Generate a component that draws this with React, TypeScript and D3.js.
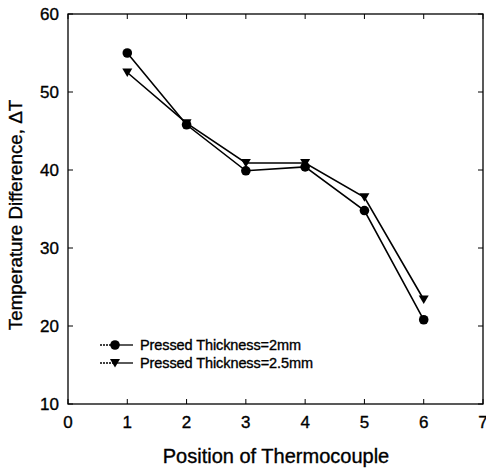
import React from "react";
import * as d3 from "d3";

const positions = [1, 2, 3, 4, 5, 6];
const series2mm = [55.0, 45.8, 39.9, 40.4, 34.8, 20.8];
const series25mm = [52.5, 46.0, 40.9, 40.9, 36.5, 23.4];
const xTicks = [0, 1, 2, 3, 4, 5, 6, 7];
const yTicks = [10, 20, 30, 40, 50, 60];
const legendLabels = ["Pressed Thickness=2mm", "Pressed Thickness=2.5mm"];

const W = 486, H = 468;
const L = 68, R = 483, T = 14, B = 404;

export default function App() {
  const x = d3.scaleLinear().domain([0, 7]).range([L, R]);
  const y = d3.scaleLinear().domain([10, 60]).range([B, T]);
  const line = d3.line<number>().x((_, i) => x(positions[i])).y((d) => y(d));
  const tri = (cx: number, cy: number, s: number) =>
    `M${cx - s},${cy - s * 0.8}L${cx + s},${cy - s * 0.8}L${cx},${cy + s * 0.9}Z`;
  const font = "Arial, 'Liberation Sans', sans-serif";
  const ink = { stroke: "#000", strokeWidth: 0.35 };
  return (
    <svg width={W} height={H} style={{ position: "absolute", left: 0, top: 0, background: "#fff" }}>
      <rect x={L} y={T} width={R - L} height={B - T} fill="none" stroke="#000" strokeWidth={1.3} />
      {xTicks.map((t) => (
        <g key={"x" + t}>
          <line x1={x(t)} x2={x(t)} y1={B} y2={B - 5} stroke="#000" />
          <line x1={x(t)} x2={x(t)} y1={T} y2={T + 5} stroke="#000" />
          <text x={x(t)} y={B + 24} textAnchor="middle" fontFamily={font} fontSize={17} {...ink}>{t}</text>
        </g>
      ))}
      {yTicks.map((t) => (
        <g key={"y" + t}>
          <line x1={L} x2={L + 5} y1={y(t)} y2={y(t)} stroke="#000" />
          <line x1={R} x2={R - 5} y1={y(t)} y2={y(t)} stroke="#000" />
          <text x={L - 9} y={y(t) + 6} textAnchor="end" fontFamily={font} fontSize={17} {...ink}>{t}</text>
        </g>
      ))}
      <text x={276} y={463} textAnchor="middle" fontFamily={font} fontSize={20} {...ink}>Position of Thermocouple</text>
      <text transform={`translate(22,215) rotate(-90)`} textAnchor="middle" fontFamily={font} fontSize={18.8} {...ink}>Temperature Difference, ΔT</text>
      <path d={line(series2mm) || ""} fill="none" stroke="#000" strokeWidth={1.6} />
      <path d={line(series25mm) || ""} fill="none" stroke="#000" strokeWidth={1.6} />
      {series2mm.map((v, i) => (
        <circle key={"c" + i} cx={x(positions[i])} cy={y(v)} r={4.8} fill="#000" />
      ))}
      {series25mm.map((v, i) => (
        <path key={"t" + i} d={tri(x(positions[i]), y(v), 5)} fill="#000" />
      ))}
      {legendLabels.map((lab, i) => {
        const ly = 345 + i * 18;
        return (
          <g key={"l" + i}>
            <line x1={100} x2={115} y1={ly} y2={ly} stroke="#000" strokeWidth={1.3} strokeDasharray="2,1" />
            <line x1={115} x2={133} y1={ly} y2={ly} stroke="#000" strokeWidth={1.3} />
            {i === 0 ? <circle cx={115} cy={ly} r={4.8} fill="#000" /> : <path d={tri(115, ly, 5)} fill="#000" />}
            <text x={140} y={ly + 5} fontFamily={font} fontSize={14.5} textLength={i === 0 ? 161 : 173} {...ink}>{lab}</text>
          </g>
        );
      })}
    </svg>
  );
}
